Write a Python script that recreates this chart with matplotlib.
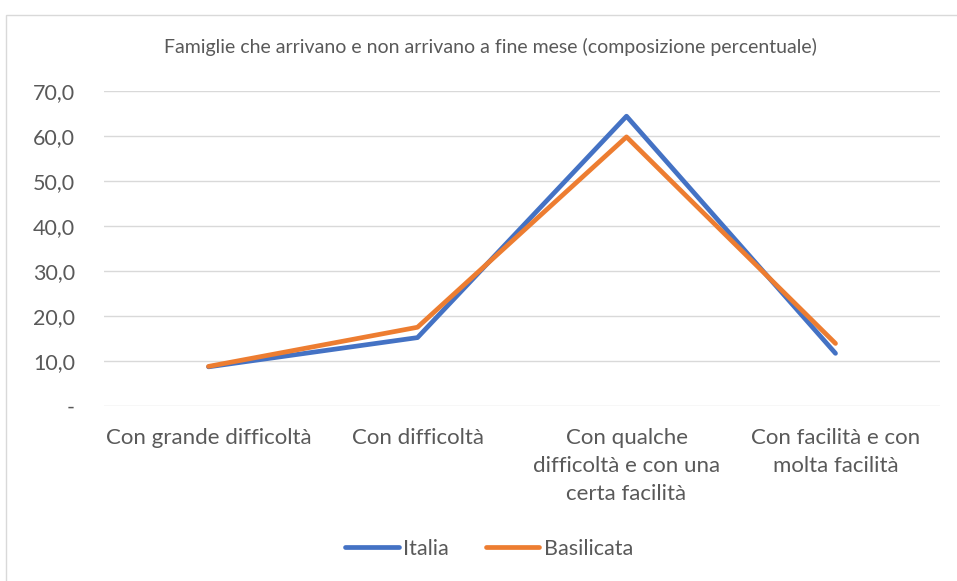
import matplotlib
matplotlib.use("Agg")
import matplotlib.pyplot as plt
from matplotlib.patches import Rectangle

categories = ["Con grande difficoltà", "Con difficoltà",
              "Con qualche\ndifficoltà e con una\ncerta facilità",
              "Con facilità e con\nmolta facilità"]
italia = [8.7, 15.2, 64.4, 11.7]
basilicata = [8.8, 17.5, 59.8, 13.9]
yticks = [0, 10, 20, 30, 40, 50, 60, 70]
ytick_labels = ["-", "10,0", "20,0", "30,0", "40,0", "50,0", "60,0", "70,0"]
title = "Famiglie che arrivano e non arrivano a fine mese (composizione percentuale)"

plt.rcParams['font.family'] = ['Lato', 'DejaVu Sans']
txt = '#595959'

fig = plt.figure(figsize=(9.57, 5.81), dpi=100)
fig.patches.append(Rectangle((6/957, -10/581), 960/957, (581-15+10)/581, transform=fig.transFigure,
                             fill=False, edgecolor='#D9D9D9', linewidth=1))
ax = fig.add_axes([104/957, 1-406/581, 836/957, 315/581])
x = list(range(len(categories)))
ax.plot(x, italia, color='#4472C4', linewidth=3.4, solid_capstyle='round', solid_joinstyle='round', label='Italia', zorder=3)
ax.plot(x, basilicata, color='#ED7D31', linewidth=3.4, solid_capstyle='round', solid_joinstyle='round', label='Basilicata', zorder=3)
ax.set_xlim(-0.5, 3.5)
ax.set_ylim(0, 70)
ax.set_yticks(yticks)
ax.set_yticklabels(ytick_labels)
ax.set_xticks(x)
ax.set_xticklabels(categories, linespacing=1.5, va='top')
for s in ax.spines.values():
    s.set_visible(False)
ax.grid(axis='y', color='#D9D9D9', linewidth=1)
ax.set_axisbelow(True)
ax.tick_params(axis='x', length=0, labelsize=16, colors=txt, pad=16)
ax.tick_params(axis='y', length=0, labelsize=15.5, colors=txt, pad=21)
fig.text(490/957, 1-47/581, title, ha='center', va='center', fontsize=14, color=txt)
leg = fig.legend(loc='center', bbox_to_anchor=(489/957, 1-549/581), ncol=2, frameon=False,
                 fontsize=15.5, handlelength=2.5, columnspacing=1.7, handletextpad=0.2)
for t in leg.get_texts():
    t.set_color(txt)
fig.savefig('out.png', dpi=100)
